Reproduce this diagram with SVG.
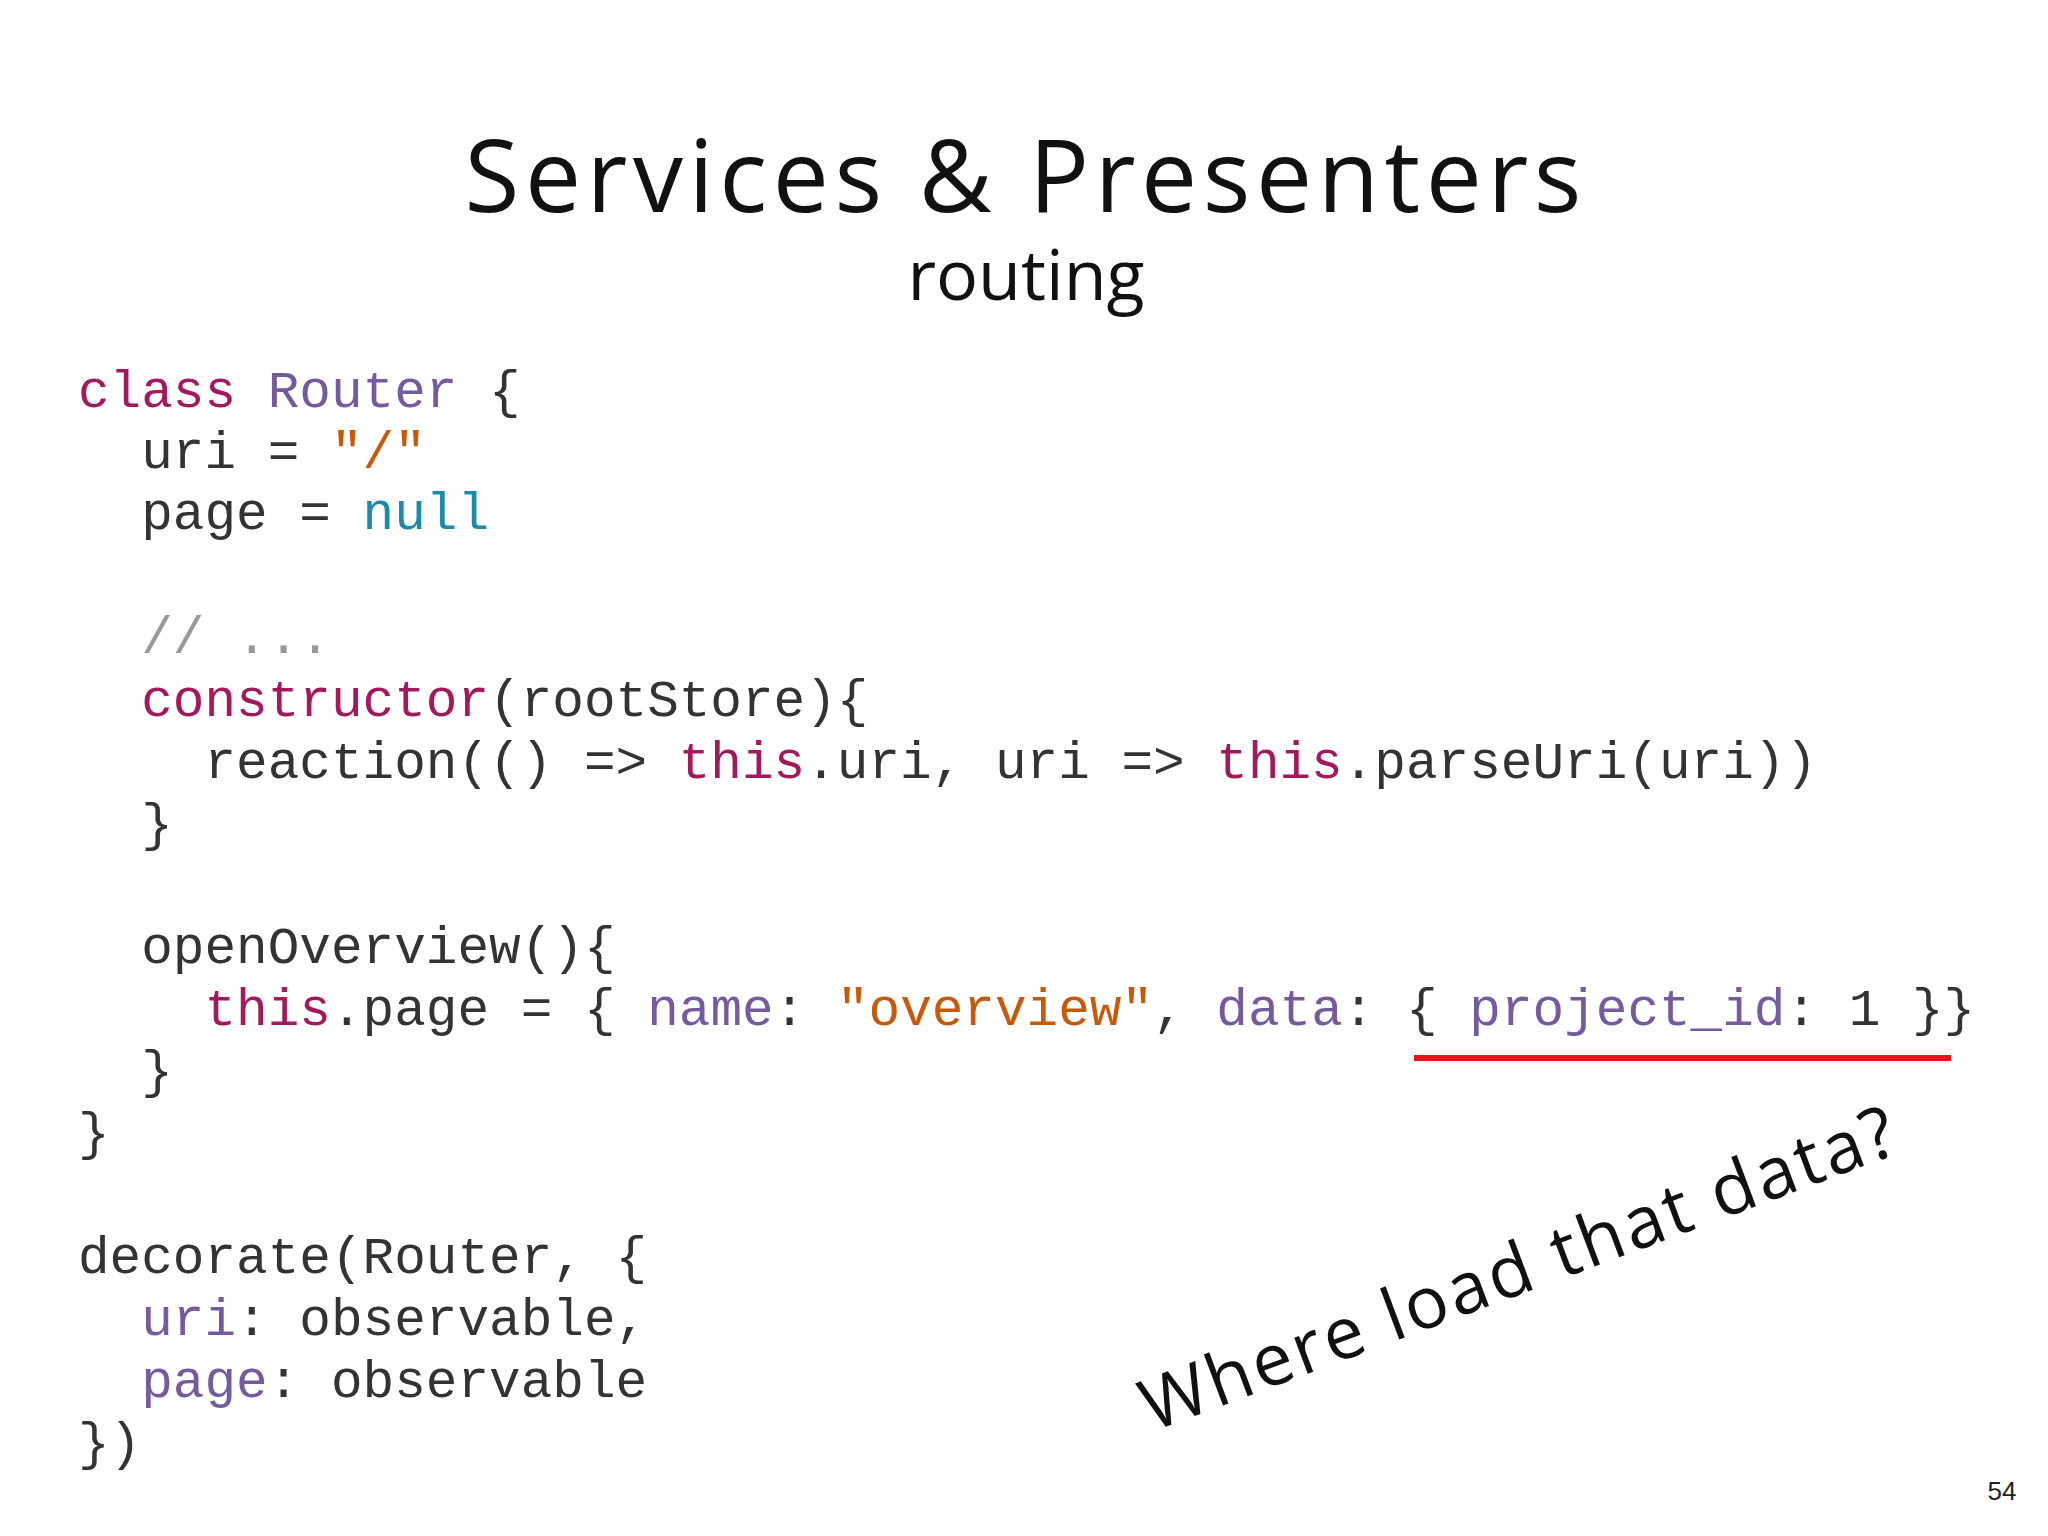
<svg xmlns="http://www.w3.org/2000/svg" width="2048" height="1536" viewBox="0 0 2048 1536">
<style>
.c{font-family:"Liberation Mono","DejaVu Sans Mono",monospace;font-size:52.7px;fill:#333;white-space:pre}
.k{fill:#a3195b}.p{fill:#745a9e}.s{fill:#c8580a}.n{fill:#1b8bad}.g{fill:#999}
.h{font-family:"Open Sans","Noto Sans",sans-serif;fill:#111}
</style>
<rect width="2048" height="1536" fill="#fff"/>
<g id="title">
<text class="h" x="1023" y="212" font-size="100" text-anchor="middle" textLength="1117">Services &amp; Presenters</text>
<text class="h" x="1026" y="300" font-size="70" text-anchor="middle">routing</text>
</g>
<g id="code">
<text class="c" x="78" y="407" xml:space="preserve"><tspan class="k">class</tspan> <tspan class="p">Router</tspan> {</text>
<text class="c" x="78" y="468" xml:space="preserve">  uri = <tspan class="s">"/"</tspan></text>
<text class="c" x="78" y="529" xml:space="preserve">  page = <tspan class="n">null</tspan></text>
<text class="c" x="78" y="653" xml:space="preserve">  <tspan class="g">// ...</tspan></text>
<text class="c" x="78" y="716" xml:space="preserve">  <tspan class="k">constructor</tspan>(rootStore){</text>
<text class="c" x="78" y="778" xml:space="preserve">    reaction(() =&gt; <tspan class="k">this</tspan>.uri, uri =&gt; <tspan class="k">this</tspan>.parseUri(uri))</text>
<text class="c" x="78" y="840" xml:space="preserve">  }</text>
<text class="c" x="78" y="963" xml:space="preserve">  openOverview(){</text>
<text class="c" x="78" y="1025" xml:space="preserve">    <tspan class="k">this</tspan>.page = { <tspan class="p">name</tspan>: <tspan class="s">"overview"</tspan>, <tspan class="p">data</tspan>: { <tspan class="p">project_id</tspan>: 1 }}</text>
<text class="c" x="78" y="1087" xml:space="preserve">  }</text>
<text class="c" x="78" y="1149" xml:space="preserve">}</text>
<text class="c" x="78" y="1273" xml:space="preserve">decorate(Router, {</text>
<text class="c" x="78" y="1335" xml:space="preserve">  <tspan class="p">uri</tspan>: observable,</text>
<text class="c" x="78" y="1397" xml:space="preserve">  <tspan class="p">page</tspan>: observable</text>
<text class="c" x="78" y="1459" xml:space="preserve">})</text>
</g>
<line id="underline" x1="1414" y1="1058" x2="1951" y2="1058" stroke="#e8141b" stroke-width="6"/>
<text id="note" class="h" font-size="72" transform="translate(1152,1432) rotate(-20.5)" textLength="800">Where load that data?</text>
<text id="pg" x="2002" y="1500" font-family="Liberation Sans,Arial,sans-serif" font-size="26" fill="#222" text-anchor="middle">54</text>
</svg>
